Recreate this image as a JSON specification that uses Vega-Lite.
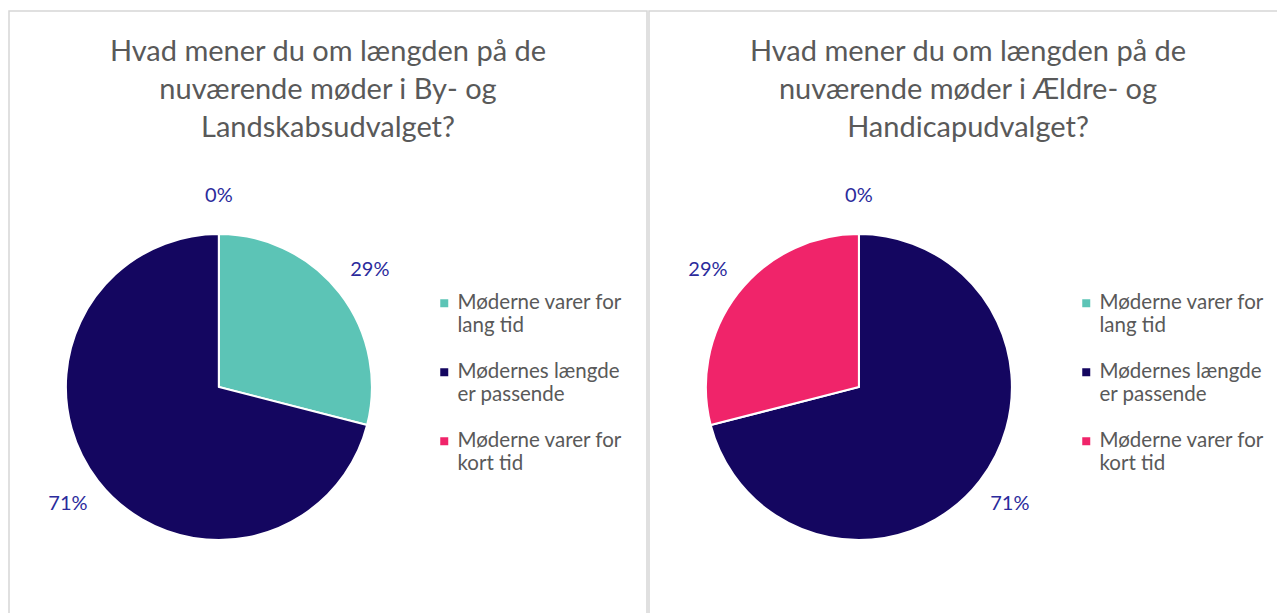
{
  "$schema": "https://vega.github.io/schema/vega-lite/v6.json",
  "autosize": {"type": "pad"},
  "padding": {"left": 8, "top": 10, "right": 0, "bottom": 0},
  "background": "white",
  "spacing": 0,
  "datasets": {
    "by": [
      {"kategori": "Møderne varer for lang tid", "idx": 1, "share": 0.29},
      {"kategori": "Mødernes længde er passende", "idx": 2, "share": 0.71},
      {"kategori": "Møderne varer for kort tid", "idx": 3, "share": 0.0}
    ],
    "aeldre": [
      {"kategori": "Møderne varer for lang tid", "idx": 1, "share": 0.0},
      {"kategori": "Mødernes længde er passende", "idx": 2, "share": 0.71},
      {"kategori": "Møderne varer for kort tid", "idx": 3, "share": 0.29}
    ]
  },
  "hconcat": [
    {
      "width": 638,
      "height": 610,
      "title": {"text": ["Hvad mener du om længden på de", "nuværende møder i By- og", "Landskabsudvalget?"], "offset": -132},
      "data": {"name": "by"},
      "layer": [
        {
          "mark": {"type": "arc", "outerRadius": 153, "stroke": "white", "strokeWidth": 2},
          "encoding": {
            "theta": {"field": "share", "type": "quantitative", "stack": true},
            "order": {"field": "idx", "type": "quantitative"},
            "color": {
              "field": "kategori", "type": "nominal",
              "scale": {"domain": ["Møderne varer for lang tid", "Mødernes længde er passende", "Møderne varer for kort tid"], "range": ["#5CC4B6", "#140660", "#F0246A"]},
              "legend": {"orient": "none", "legendX": 425, "legendY": 282, "title": null,
                "labelExpr": "datum.label == 'Møderne varer for lang tid' ? ['Møderne varer for', 'lang tid'] : datum.label == 'Mødernes længde er passende' ? ['Mødernes længde', 'er passende'] : ['Møderne varer for', 'kort tid']"}
            },
            "x": {"datum": 0.329, "type": "quantitative", "scale": {"domain": [0, 1], "nice": false, "zero": false}, "axis": null},
            "y": {"datum": 0.6164, "type": "quantitative", "scale": {"domain": [0, 1], "reverse": true, "nice": false, "zero": false}, "axis": null}
          }
        },
        {
          "mark": {"type": "text", "radius": 191, "fontSize": 20, "color": "#2B2B9C", "font": "Lato"},
          "encoding": {
            "theta": {"field": "share", "type": "quantitative", "stack": true},
            "order": {"field": "idx", "type": "quantitative"},
            "text": {"field": "share", "type": "quantitative", "format": ".0%"},
            "x": {"datum": 0.329, "type": "quantitative", "scale": {"domain": [0, 1], "nice": false, "zero": false}, "axis": null},
            "y": {"datum": 0.6164, "type": "quantitative", "scale": {"domain": [0, 1], "reverse": true, "nice": false, "zero": false}, "axis": null}
          }
        }
      ]
    },
    {
      "width": 638,
      "height": 610,
      "title": {"text": ["Hvad mener du om længden på de", "nuværende møder i Ældre- og", "Handicapudvalget?"], "offset": -132},
      "data": {"name": "aeldre"},
      "layer": [
        {
          "mark": {"type": "arc", "outerRadius": 153, "stroke": "white", "strokeWidth": 2},
          "encoding": {
            "theta": {"field": "share", "type": "quantitative", "stack": true},
            "order": {"field": "idx", "type": "quantitative"},
            "color": {
              "field": "kategori", "type": "nominal",
              "scale": {"domain": ["Møderne varer for lang tid", "Mødernes længde er passende", "Møderne varer for kort tid"], "range": ["#5CC4B6", "#140660", "#F0246A"]},
              "legend": {"orient": "none", "legendX": 427, "legendY": 282, "title": null,
                "labelExpr": "datum.label == 'Møderne varer for lang tid' ? ['Møderne varer for', 'lang tid'] : datum.label == 'Mødernes længde er passende' ? ['Mødernes længde', 'er passende'] : ['Møderne varer for', 'kort tid']"}
            },
            "x": {"datum": 0.329, "type": "quantitative", "scale": {"domain": [0, 1], "nice": false, "zero": false}, "axis": null},
            "y": {"datum": 0.6164, "type": "quantitative", "scale": {"domain": [0, 1], "reverse": true, "nice": false, "zero": false}, "axis": null}
          }
        },
        {
          "mark": {"type": "text", "radius": 191, "fontSize": 20, "color": "#2B2B9C", "font": "Lato"},
          "encoding": {
            "theta": {"field": "share", "type": "quantitative", "stack": true},
            "order": {"field": "idx", "type": "quantitative"},
            "text": {"field": "share", "type": "quantitative", "format": ".0%"},
            "x": {"datum": 0.329, "type": "quantitative", "scale": {"domain": [0, 1], "nice": false, "zero": false}, "axis": null},
            "y": {"datum": 0.6164, "type": "quantitative", "scale": {"domain": [0, 1], "reverse": true, "nice": false, "zero": false}, "axis": null}
          }
        }
      ]
    }
  ],
  "resolve": {"legend": {"color": "independent"}, "scale": {"color": "independent"}},
  "config": {
    "view": {"stroke": "#d6d6d6", "strokeWidth": 1.5},
    "title": {"font": "Lato", "fontSize": 29, "fontWeight": "normal", "color": "#595959", "lineHeight": 38, "anchor": "middle"},
    "legend": {"labelFont": "Lato", "labelFontSize": 20.5, "labelColor": "#595959", "symbolType": "square", "symbolSize": 64, "symbolStrokeWidth": 0, "rowPadding": 25, "labelLimit": 300, "labelOffset": 3}
  }
}
